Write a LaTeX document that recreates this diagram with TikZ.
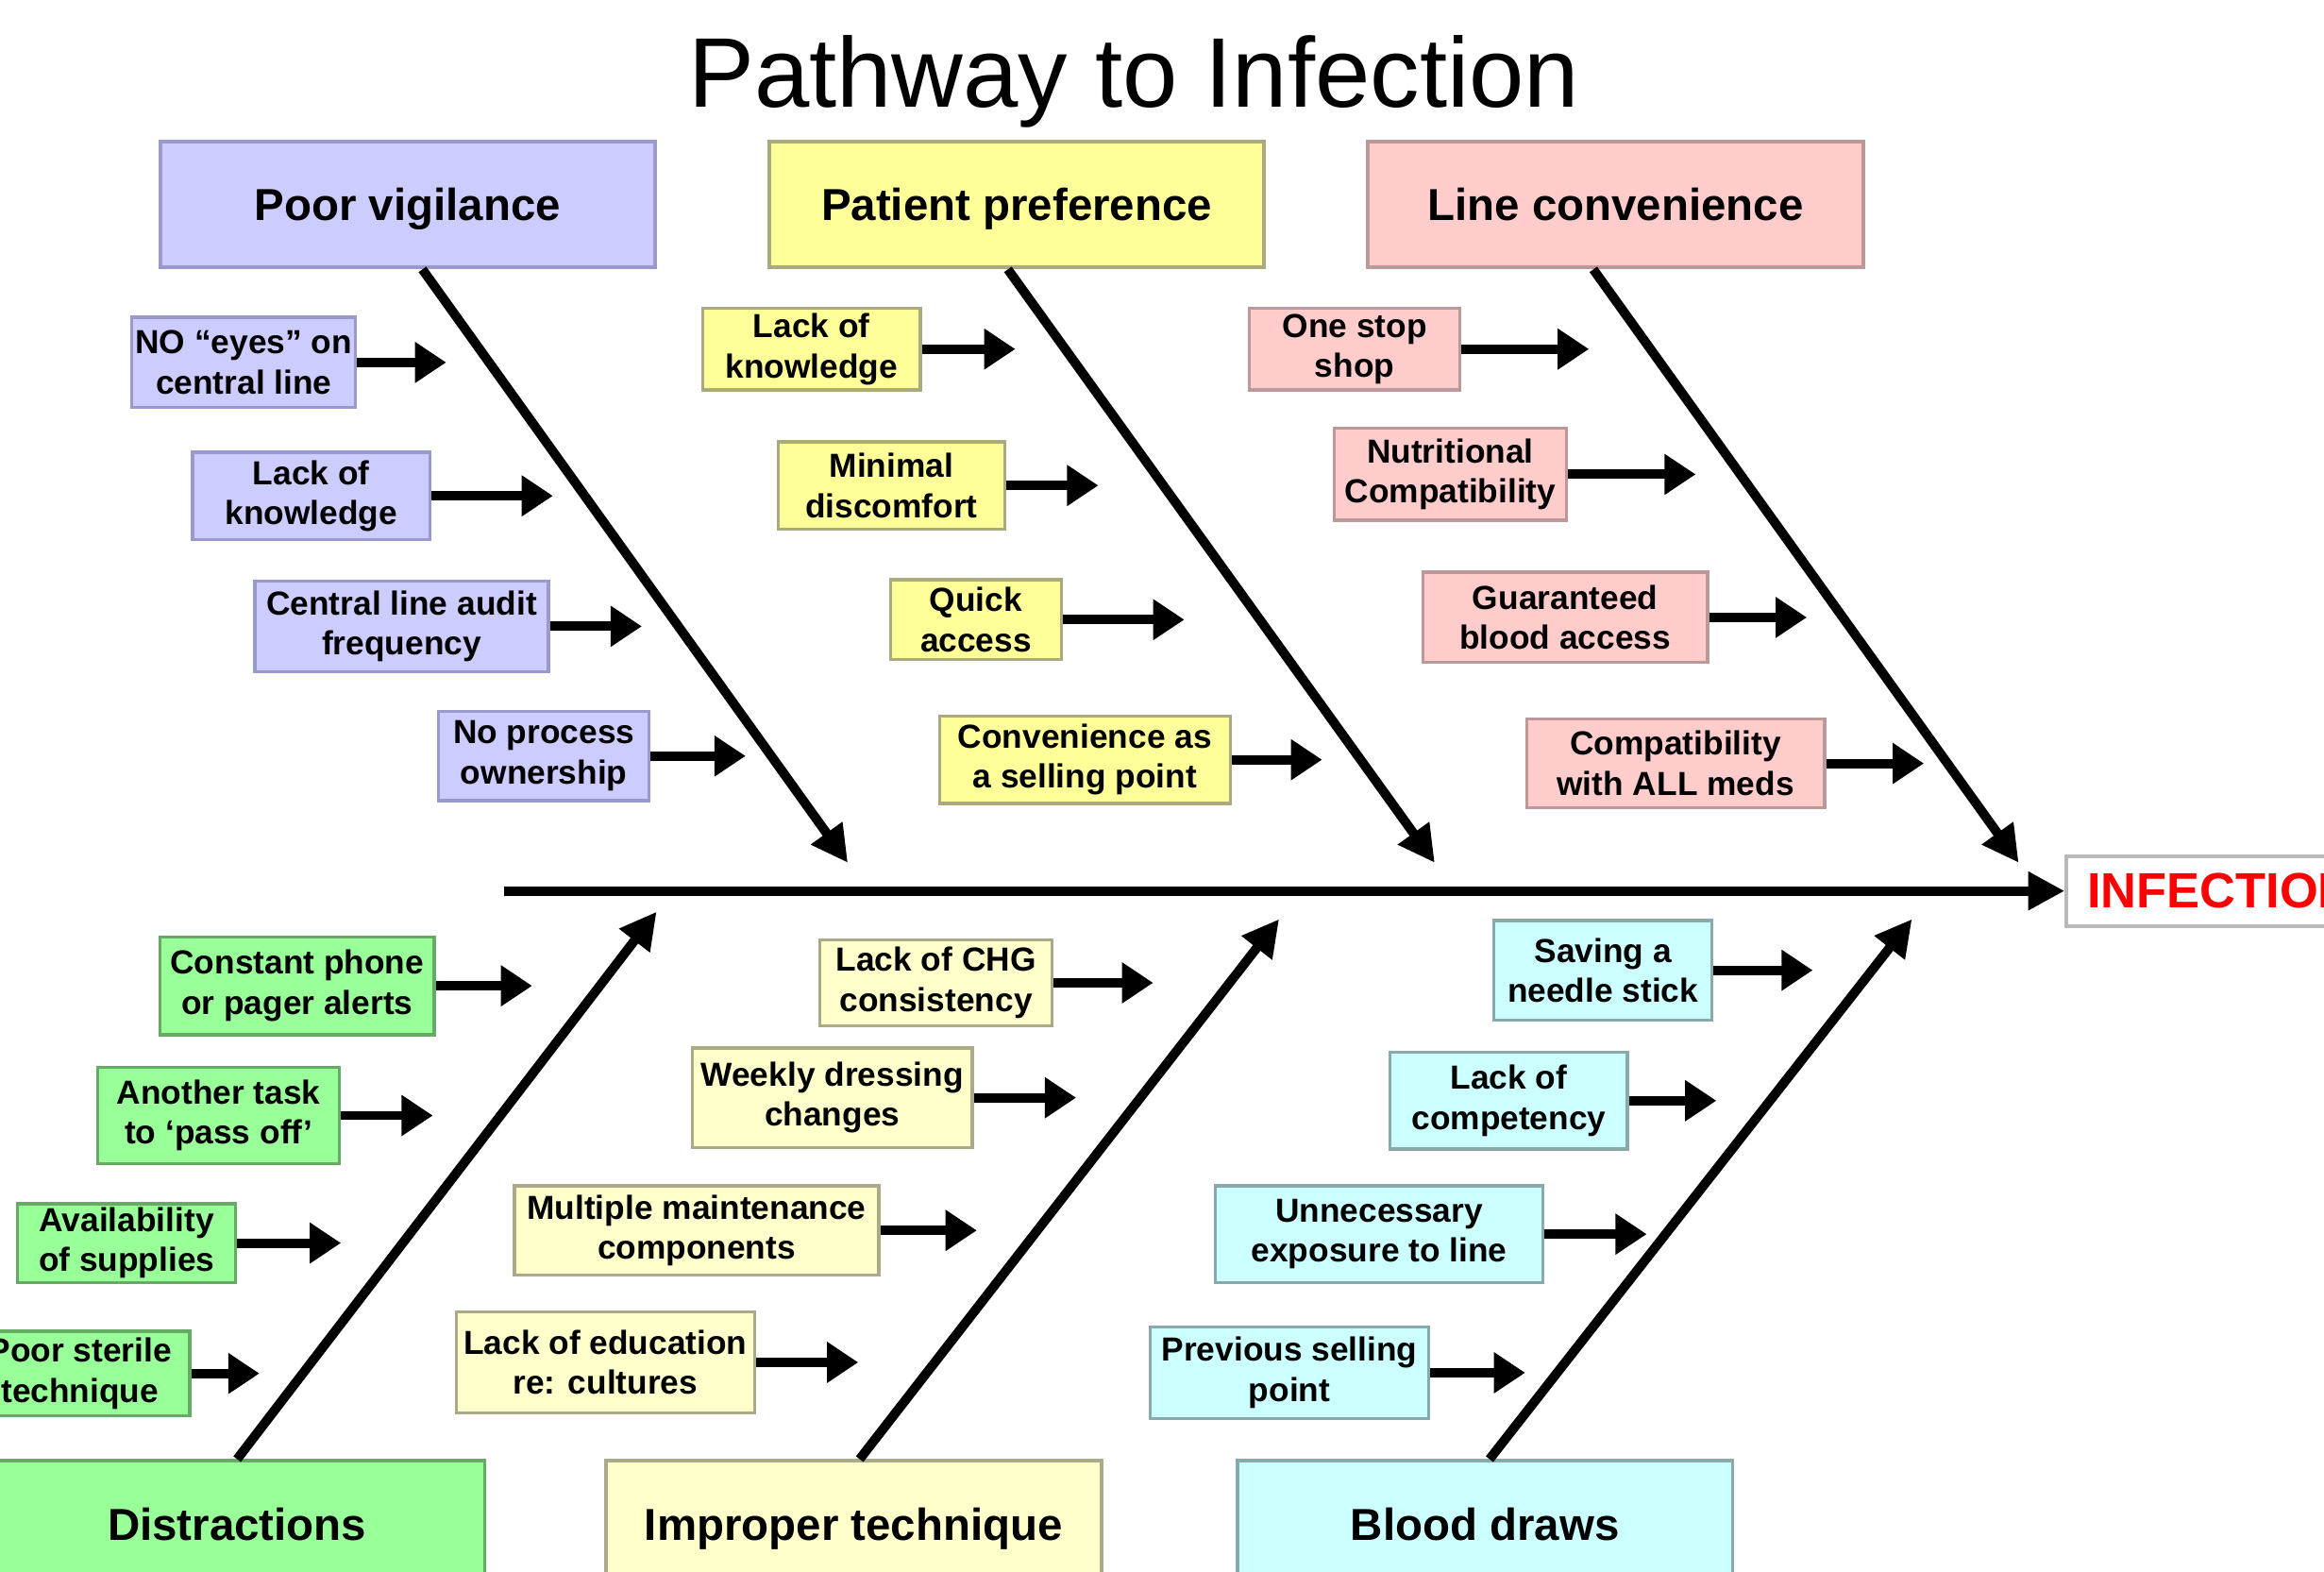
\documentclass[tikz,border=0pt]{standalone}
\usepackage{fontspec}
\setmainfont{Liberation Sans}
\usetikzlibrary{arrows.meta,positioning}

\definecolor{lavfill}{HTML}{CCCCFF}
\definecolor{lavline}{HTML}{9999CC}
\definecolor{yelfill}{HTML}{FFFF99}
\definecolor{yelline}{HTML}{AAAA80}
\definecolor{pinkfill}{HTML}{FFCCCC}
\definecolor{pinkline}{HTML}{BB9999}
\definecolor{grnfill}{HTML}{99FF99}
\definecolor{grnline}{HTML}{66AA66}
\definecolor{creamfill}{HTML}{FFFFCC}
\definecolor{creamline}{HTML}{AAAA88}
\definecolor{cyanfill}{HTML}{CCFFFF}
\definecolor{cyanline}{HTML}{88AAAA}

\tikzstyle{cause} = [rectangle, draw, line width=0.7pt, text centered, minimum width=3.34cm, minimum height=0.85cm, text height=6.2pt, text depth=0pt, font=\fontsize{8.6}{10}\selectfont\bfseries]
\tikzstyle{factor} = [rectangle, draw, line width=0.6pt, align=center, inner sep=0pt, font=\fontsize{6.4}{7.7}\selectfont\bfseries]
\tikzstyle{vigil} = [fill=lavfill, draw=lavline]
\tikzstyle{prefer} = [fill=yelfill, draw=yelline]
\tikzstyle{conven} = [fill=pinkfill, draw=pinkline]
\tikzstyle{distr} = [fill=grnfill, draw=grnline]
\tikzstyle{techn} = [fill=creamfill, draw=creamline]
\tikzstyle{blood} = [fill=cyanfill, draw=cyanline]
\tikzstyle{feed} = [line width=1.8pt, -{Triangle[length=6pt,width=7.5pt]}]
\tikzstyle{bone} = [line width=1.8pt, -{Triangle[length=7pt,width=7pt]}]

\begin{document}
\begin{tikzpicture}
\useasboundingbox (0,0) rectangle (15.68,10.60);
\node [anchor=base, font=\fontsize{19}{22}\selectfont] (title) at (7.65,9.88) {Pathway to Infection};
% main causes
\node [cause, vigil] (PV) at (2.75,9.22) {Poor vigilance};
\node [cause, prefer] (PP) at (6.86,9.22) {Patient preference};
\node [cause, conven] (LC) at (10.90,9.22) {Line convenience};
\node [cause, distr] (DI) at (1.60,0.32) {Distractions};
\node [cause, techn] (IT) at (5.76,0.32) {Improper technique};
\node [cause, blood] (BD) at (10.02,0.32) {Blood draws};
\node [draw=gray!55, fill=white, line width=0.7pt, anchor=west, minimum height=0.47cm, inner xsep=0.14cm, text=red, font=\fontsize{9.5}{11}\selectfont\bfseries] (INF) at (13.93,4.59) {INFECTION};
% Poor vigilance
\node [factor, vigil, minimum width=1.51cm, minimum height=0.61cm] (v1) at (1.645,8.155) {NO ``eyes'' on\\central line};
\node [factor, vigil, minimum width=1.60cm, minimum height=0.59cm] (v2) at (2.10,7.255) {Lack of\\knowledge};
\node [factor, vigil, minimum width=1.98cm, minimum height=0.61cm] (v3) at (2.71,6.375) {Central line audit\\frequency};
\node [factor, vigil, minimum width=1.42cm, minimum height=0.60cm] (v4) at (3.67,5.50) {No process\\ownership};
% Patient preference
\node [factor, prefer, minimum width=1.47cm, minimum height=0.55cm] (p1) at (5.475,8.245) {Lack of\\knowledge};
\node [factor, prefer, minimum width=1.53cm, minimum height=0.59cm] (p2) at (6.015,7.325) {Minimal\\discomfort};
\node [factor, prefer, minimum width=1.15cm, minimum height=0.54cm] (p3) at (6.585,6.42) {Quick\\access};
\node [factor, prefer, minimum width=1.96cm, minimum height=0.59cm] (p4) at (7.32,5.475) {Convenience as\\a selling point};
% Line convenience
\node [factor, conven, minimum width=1.42cm, minimum height=0.55cm] (l1) at (9.14,8.245) {One stop\\shop};
\node [factor, conven, minimum width=1.57cm, minimum height=0.62cm] (l2) at (9.785,7.40) {Nutritional\\Compatibility};
\node [factor, conven, minimum width=1.92cm, minimum height=0.61cm] (l3) at (10.56,6.435) {Guaranteed\\blood access};
\node [factor, conven, minimum width=2.01cm, minimum height=0.60cm] (l4) at (11.305,5.45) {Compatibility\\with ALL meds};
% Distractions
\node [factor, distr, minimum width=1.85cm, minimum height=0.66cm] (d1) at (2.005,3.95) {Constant phone\\or pager alerts};
\node [factor, distr, minimum width=1.63cm, minimum height=0.65cm] (d2) at (1.475,3.075) {Another task\\to `pass off'};
\node [factor, distr, minimum width=1.47cm, minimum height=0.53cm] (d3) at (0.855,2.215) {Availability\\of supplies};
\node [factor, distr, minimum width=1.48cm, minimum height=0.57cm] (d4) at (0.54,1.335) {Poor sterile\\technique};
% Improper technique
\node [factor, techn, minimum width=1.57cm, minimum height=0.58cm] (i1) at (6.315,3.97) {Lack of CHG\\consistency};
\node [factor, techn, minimum width=1.89cm, minimum height=0.67cm] (i2) at (5.615,3.195) {Weekly dressing\\changes};
\node [factor, techn, minimum width=2.46cm, minimum height=0.60cm] (i3) at (4.70,2.30) {Multiple maintenance\\components};
\node [factor, techn, minimum width=2.01cm, minimum height=0.68cm] (i4) at (4.085,1.41) {Lack of education\\re: cultures};
% Blood draws
\node [factor, blood, minimum width=1.47cm, minimum height=0.67cm] (b1) at (10.815,4.055) {Saving a\\needle stick};
\node [factor, blood, minimum width=1.60cm, minimum height=0.65cm] (b2) at (10.18,3.175) {Lack of\\competency};
\node [factor, blood, minimum width=2.21cm, minimum height=0.65cm] (b3) at (9.305,2.275) {Unnecessary\\exposure to line};
\node [factor, blood, minimum width=1.88cm, minimum height=0.62cm] (b4) at (8.70,1.34) {Previous selling\\point};
% arrow tips
\coordinate [right=0.60cm of v1] (v1t);
\coordinate [right=0.82cm of v2] (v2t);
\coordinate [right=0.62cm of v3] (v3t);
\coordinate [right=0.64cm of v4] (v4t);
\coordinate [right=0.63cm of p1] (p1t);
\coordinate [right=0.62cm of p2] (p2t);
\coordinate [right=0.82cm of p3] (p3t);
\coordinate [right=0.61cm of p4] (p4t);
\coordinate [right=0.86cm of l1] (l1t);
\coordinate [right=0.86cm of l2] (l2t);
\coordinate [right=0.66cm of l3] (l3t);
\coordinate [right=0.66cm of l4] (l4t);
\coordinate [right=0.65cm of d1] (d1t);
\coordinate [right=0.62cm of d2] (d2t);
\coordinate [right=0.70cm of d3] (d3t);
\coordinate [right=0.46cm of d4] (d4t);
\coordinate [right=0.67cm of i1] (i1t);
\coordinate [right=0.69cm of i2] (i2t);
\coordinate [right=0.65cm of i3] (i3t);
\coordinate [right=0.69cm of i4] (i4t);
\coordinate [right=0.67cm of b1] (b1t);
\coordinate [right=0.59cm of b2] (b2t);
\coordinate [right=0.69cm of b3] (b3t);
\coordinate [right=0.64cm of b4] (b4t);
\coordinate (spinestart) at (3.40,4.59);
\coordinate (PVend) at (5.72,4.78);
\coordinate (PPend) at (9.68,4.78);
\coordinate (LCend) at (13.62,4.78);
\coordinate (DIend) at (4.43,4.45);
\coordinate (ITend) at (8.63,4.40);
\coordinate (BDend) at (12.90,4.40);
% Paths
\draw[bone] (spinestart) -- (INF);
\draw[bone] ([xshift=1mm]PV.south) -- (PVend);
\draw[bone] ([xshift=-0.6mm]PP.south) -- (PPend);
\draw[bone] ([xshift=-1.5mm]LC.south) -- (LCend);
\draw[bone] (DI.north) -- (DIend);
\draw[bone] ([xshift=0.4mm]IT.north) -- (ITend);
\draw[bone] ([xshift=0.3mm]BD.north) -- (BDend);
\draw[feed] (v1) -- (v1t);
\draw[feed] (v2) -- (v2t);
\draw[feed] (v3) -- (v3t);
\draw[feed] (v4) -- (v4t);
\draw[feed] (p1) -- (p1t);
\draw[feed] (p2) -- (p2t);
\draw[feed] (p3) -- (p3t);
\draw[feed] (p4) -- (p4t);
\draw[feed] (l1) -- (l1t);
\draw[feed] (l2) -- (l2t);
\draw[feed] (l3) -- (l3t);
\draw[feed] (l4) -- (l4t);
\draw[feed] (d1) -- (d1t);
\draw[feed] (d2) -- (d2t);
\draw[feed] (d3) -- (d3t);
\draw[feed] (d4) -- (d4t);
\draw[feed] (i1) -- (i1t);
\draw[feed] (i2) -- (i2t);
\draw[feed] (i3) -- (i3t);
\draw[feed] (i4) -- (i4t);
\draw[feed] (b1) -- (b1t);
\draw[feed] (b2) -- (b2t);
\draw[feed] (b3) -- (b3t);
\draw[feed] (b4) -- (b4t);
\end{tikzpicture}
\end{document}
